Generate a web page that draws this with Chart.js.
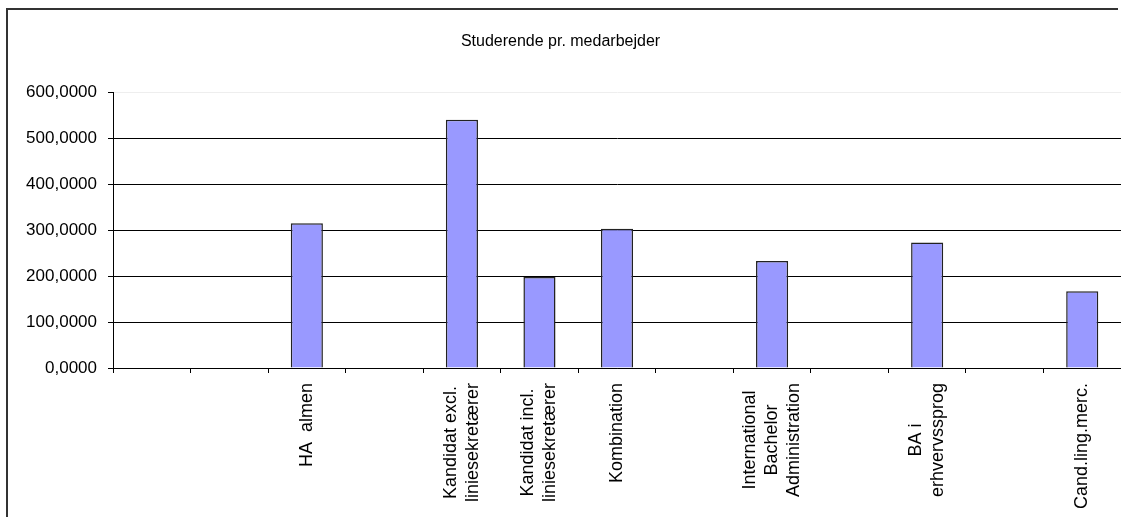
<!DOCTYPE html>
<html>
<head>
<meta charset="utf-8">
<title>Studerende pr. medarbejder</title>
<script src="https://cdn.jsdelivr.net/npm/chart.js@4/dist/chart.umd.min.js"></script>
<style>
  html, body { margin: 0; padding: 0; background: #fff; overflow: hidden; }
  #wrap { position: relative; width: 1121px; height: 517px; }
</style>
</head>
<body>
<div id="wrap">
  <canvas id="chart"></canvas>
</div>
<script>
// Categories (empty strings are unused slots on the axis)
const categories = [
  "", "", "HA  almen", "",
  ["Kandidat excl.", "liniesekretærer"],
  ["Kandidat incl.", "liniesekretærer"],
  "Kombination", "",
  ["International", "Bachelor", "Administration"], "",
  ["BA i", "erhvervssprog"], "",
  "Cand.ling.merc."
];
const values = [null, null, 315, null, 540, 198, 303, null, 233, null, 273, null, 167];
const yTickValues = [0, 100, 200, 300, 400, 500, 600];

const FONT = '"Liberation Sans", Arial, sans-serif';
Chart.defaults.font.family = FONT;
Chart.defaults.color = "#000";

// Danish number format, e.g. 600,0000
function fmt(v) {
  return v.toFixed(4).replace(".", ",");
}

// Outer chart frame (only left and top edges are visible in the original)
const frame = {
  id: "frame",
  beforeDraw(chart) {
    const ctx = chart.ctx;
    ctx.save();
    ctx.strokeStyle = "#333";
    ctx.lineWidth = 2;
    ctx.beginPath();
    ctx.moveTo(7, chart.height);
    ctx.lineTo(7, 9);
    ctx.lineTo(chart.width - 3, 9);
    ctx.stroke();
    ctx.restore();
  }
};

// Vertical category labels, lines centred on each other
const xLabels = {
  id: "xLabels",
  afterDraw(chart) {
    const scale = chart.scales.x;
    const ctx = chart.ctx;
    ctx.save();
    ctx.font = "18px " + FONT;
    ctx.fillStyle = "#000";
    ctx.textAlign = "center";
    ctx.textBaseline = "middle";
    categories.forEach((label, i) => {
      const lines = Array.isArray(label) ? label : [label];
      if (!lines[0]) return;
      const widest = Math.max(...lines.map(l => ctx.measureText(l).width));
      const cx = scale.getPixelForTick(i);
      const cy = scale.top + 15 + widest / 2;
      ctx.save();
      ctx.translate(cx, cy);
      ctx.rotate(-Math.PI / 2);
      lines.forEach((line, j) => {
        ctx.fillText(line, 0, (j - (lines.length - 1) / 2) * 22);
      });
      ctx.restore();
    });
    ctx.restore();
  }
};

new Chart(document.getElementById("chart"), {
  type: "bar",
  data: {
    labels: categories,
    datasets: [{
      data: values,
      backgroundColor: "#9999FF",
      borderColor: "#222",
      borderWidth: 1.5,
      barPercentage: 0.414,
      categoryPercentage: 1
    }]
  },
  options: {
    responsive: true,
    maintainAspectRatio: false,
    animation: false,
    layout: { padding: { left: 0, right: 0, top: 0, bottom: 0 } },
    plugins: {
      legend: { display: false },
      tooltip: { enabled: false },
      title: {
        display: true,
        text: "Studerende pr. medarbejder",
        font: { size: 16, weight: "normal" },
        color: "#000",
        padding: { top: 32, bottom: 41 }
      }
    },
    scales: {
      x: {
        grid: {
          display: true,
          drawOnChartArea: false,
          offset: true,
          tickLength: 5,
          color: "#000",
          tickColor: "#000"
        },
        border: { color: "#000", width: 1 },
        ticks: { display: false },
        afterFit(scale) { scale.height = 149; }
      },
      y: {
        min: 0,
        max: 600,
        afterBuildTicks(scale) {
          scale.ticks = yTickValues.map(v => ({ value: v }));
        },
        grid: {
          color: c => (c.tick && c.tick.value === 600 ? "#eeeeee" : "#000"),
          tickColor: "#000",
          tickLength: 5
        },
        border: { color: "#000", width: 1 },
        ticks: {
          padding: 11,
          font: { size: 17 },
          color: "#000",
          callback: v => fmt(v)
        },
        afterFit(scale) { scale.width = 113; }
      }
    }
  },
  plugins: [frame, xLabels]
});
</script>
</body>
</html>
